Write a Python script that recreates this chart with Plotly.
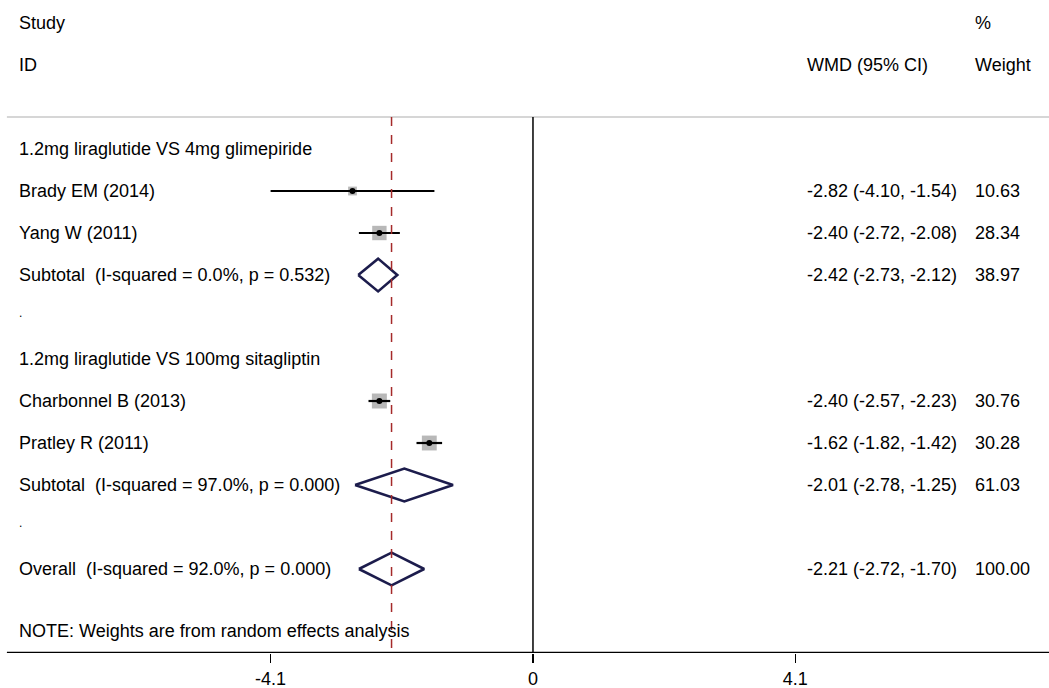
import plotly.graph_objects as go
import math

# ---------------- data ----------------
group_titles = ["1.2mg liraglutide VS 4mg glimepiride", "1.2mg liraglutide VS 100mg sitagliptin"]

study_names = ["Brady EM (2014)", "Yang W (2011)", "Charbonnel B (2013)", "Pratley R (2011)"]
study_est = [-2.82, -2.40, -2.40, -1.62]
study_lo = [-4.10, -2.72, -2.57, -1.82]
study_hi = [-1.54, -2.08, -2.23, -1.42]
study_weight = [10.63, 28.34, 30.76, 30.28]
study_rows = [1, 2, 6, 7]

pooled_labels = ["Subtotal  (I-squared = 0.0%, p = 0.532)",
                 "Subtotal  (I-squared = 97.0%, p = 0.000)",
                 "Overall  (I-squared = 92.0%, p = 0.000)"]
pooled_est = [-2.42, -2.01, -2.21]
pooled_lo = [-2.73, -2.78, -2.72]
pooled_hi = [-2.12, -1.25, -1.70]
pooled_weight = [38.97, 61.03, 100.00]
pooled_rows = [3, 8, 10]

group_rows = [0, 5]
dot_rows = [4, 9]

tick_vals = [-4.1, 0, 4.1]
tick_text = ["-4.1", "0", "4.1"]

note_text = "NOTE: Weights are from random effects analysis"

# ---------------- layout constants ----------------
FONT = "Liberation Sans, Arial, sans-serif"
FS = 18
X_LABEL = -8.06
X_WMD = 4.25
X_WT = 6.87
X_MIN, X_MAX = -8.328, 8.063
Y_TOP = -3.548
Y_AXIS = 12.0
Y_SEP = -0.76
DIAMOND_HALF = 0.39

fig = go.Figure()

# separator line
fig.add_shape(type="line", x0=-8.22, x1=X_MAX, y0=Y_SEP, y1=Y_SEP,
              line=dict(color="#c8c8c8", width=1.5), layer="below")
# null line
fig.add_shape(type="line", x0=0, x1=0, y0=Y_SEP, y1=Y_AXIS,
              line=dict(color="black", width=1.5))
# overall effect dashed line
fig.add_shape(type="line", x0=pooled_est[-1], x1=pooled_est[-1], y0=Y_SEP, y1=Y_AXIS,
              line=dict(color="#a52a2a", width=1.5, dash="dash"))

# weight squares
fig.add_trace(go.Scatter(x=study_est, y=study_rows, mode="markers",
                         marker=dict(symbol="square", color="#9a9a9a",
                                     size=[2.7 * math.sqrt(w) for w in study_weight],
                                     line=dict(width=0)),
                         showlegend=False, hoverinfo="skip"))
# CI lines for studies
for est, lo, hi, r in zip(study_est, study_lo, study_hi, study_rows):
    fig.add_trace(go.Scatter(x=[lo, hi], y=[r, r], mode="lines",
                             line=dict(color="black", width=2.2),
                             showlegend=False, hoverinfo="skip"))
# point estimates
fig.add_trace(go.Scatter(x=study_est, y=study_rows, mode="markers",
                         marker=dict(symbol="circle", color="black", size=6),
                         showlegend=False, hoverinfo="skip"))

# diamonds
for est, lo, hi, r in zip(pooled_est, pooled_lo, pooled_hi, pooled_rows):
    fig.add_trace(go.Scatter(x=[lo, est, hi, est, lo],
                             y=[r, r - DIAMOND_HALF, r, r + DIAMOND_HALF, r],
                             mode="lines", line=dict(color="#1c1c4c", width=2.6),
                             showlegend=False, hoverinfo="skip"))

# text annotations
def txt(x, y, s, size=FS):
    fig.add_annotation(x=x, y=y, text=s, showarrow=False, xanchor="left",
                       yanchor="middle", font=dict(family=FONT, size=size, color="black"))

txt(X_LABEL, -3, "Study")
txt(X_LABEL, -2, "ID")
txt(X_WT, -3, "%")
txt(X_WMD, -2, "WMD (95% CI)")
txt(X_WT, -2, "Weight")

for g, r in zip(group_titles, group_rows):
    txt(X_LABEL, r, g)
for r in dot_rows:
    txt(X_LABEL, r - 0.1, ".", size=12)

for name, est, lo, hi, w, r in zip(study_names, study_est, study_lo, study_hi, study_weight, study_rows):
    txt(X_LABEL, r, name)
    txt(X_WMD, r, f"{est:.2f} ({lo:.2f}, {hi:.2f})")
    txt(X_WT, r, f"{w:.2f}")

for name, est, lo, hi, w, r in zip(pooled_labels, pooled_est, pooled_lo, pooled_hi, pooled_weight, pooled_rows):
    txt(X_LABEL, r, name)
    txt(X_WMD, r, f"{est:.2f} ({lo:.2f}, {hi:.2f})")
    txt(X_WT, r, f"{w:.2f}")

txt(X_LABEL, 11.476, note_text)

fig.update_layout(
    width=1049, height=688,
    margin=dict(l=0, r=0, t=0, b=35),
    paper_bgcolor="white", plot_bgcolor="white",
    showlegend=False,
    xaxis=dict(range=[X_MIN, X_MAX], tickvals=tick_vals, ticktext=tick_text,
               showgrid=False, zeroline=False, showline=False,
               ticks="outside", ticklen=9, tickwidth=1.5, tickcolor="black",
               tickfont=dict(family=FONT, size=18, color="black"),
               fixedrange=True),
    yaxis=dict(range=[Y_AXIS, Y_TOP], visible=False, fixedrange=True),
)
# axis line
fig.add_shape(type="line", x0=-8.22, x1=X_MAX, y0=Y_AXIS, y1=Y_AXIS,
              line=dict(color="black", width=2.5))

fig.write_html("out.html",
               config={"displayModeBar": False, "staticPlot": True},
               post_script="document.body.style.margin='0';document.body.style.overflow='hidden';")
